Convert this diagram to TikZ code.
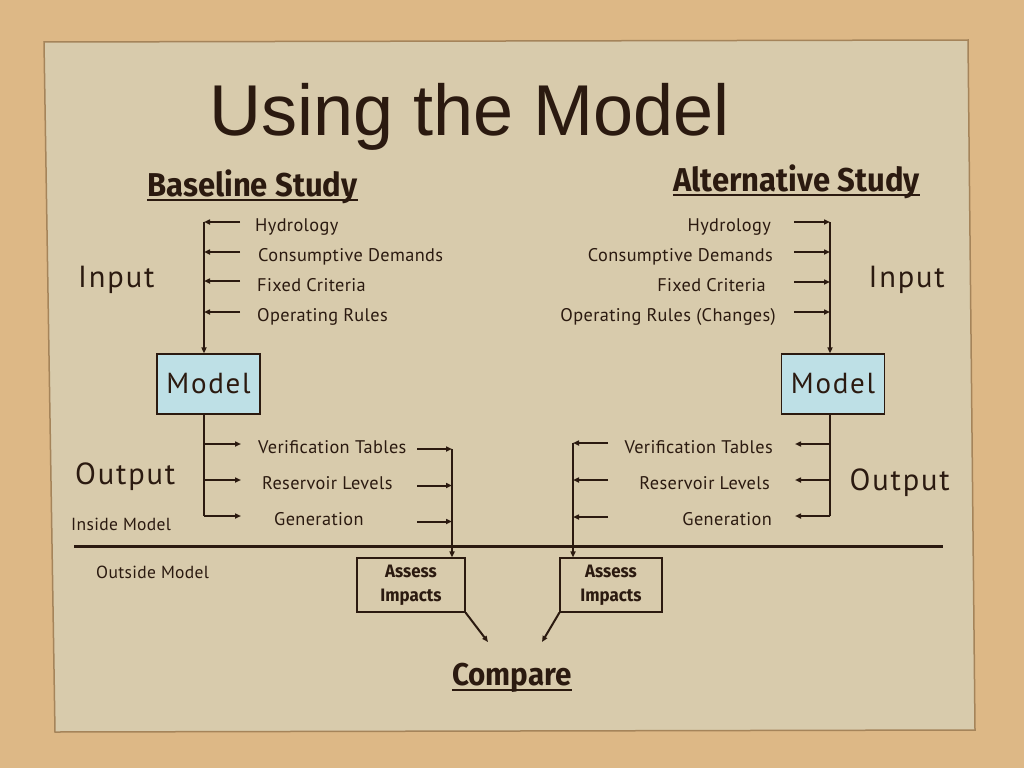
\documentclass[tikz,border=0pt]{standalone}
\usepackage{fontspec}
\setmainfont{PT Sans}[LetterSpace=2]
\newfontfamily\bigfont{PT Sans}[LetterSpace=6]
\newfontfamily\titlefont{Liberation Sans}
\newfontfamily\headfont{Fira Sans}[FakeStretch=0.94]
\usetikzlibrary{arrows.meta}
\definecolor{ink}{HTML}{2B1A10}
\definecolor{sand}{HTML}{DDB886}
\definecolor{paper}{HTML}{D8CBAC}
\definecolor{paperedge}{HTML}{A5845A}
\definecolor{modelfill}{HTML}{BEE0E6}
\tikzset{
  txt/.style={inner sep=0pt, text=ink, font=\fontsize{18.3}{20}\selectfont},
  small/.style={inner sep=0pt, text=ink, font=\fontsize{17.5}{19}\selectfont},
  big/.style={inner sep=0pt, text=ink, font=\bigfont\fontsize{30.5}{32}\selectfont},
  head/.style={inner sep=0pt, text=ink, font=\headfont\bfseries\fontsize{33}{35}\selectfont},
  modelbox/.style={draw=ink, line width=1.2pt, fill=modelfill, minimum width=103pt, minimum height=60pt, inner sep=0pt, text=ink, font=\bigfont\fontsize{29}{31}\selectfont},
  assessbox/.style={draw=ink, line width=1.1pt, minimum height=54pt, inner sep=0pt, text=ink, align=center, font=\headfont\bfseries\fontsize{18}{24}\selectfont},
  arr/.style={draw=ink, line width=2pt, -{Triangle[length=6pt,width=5pt]}},
  ln/.style={draw=ink, line width=1.8pt},
  uline/.style={draw=ink, line width=2pt}
}
\begin{document}
\begin{tikzpicture}[x=1pt,y=-1pt]
\useasboundingbox (0,0) rectangle (1024,768);
\fill[sand] (0,0) rectangle (1024,768);
\filldraw[fill=paper, draw=paperedge, line width=1.5pt] (44,42) -- (968,40) -- (975,730) -- (55,732) -- cycle;

% title
\node[anchor=base west, inner sep=0pt, text=ink, font=\titlefont\fontsize{72}{76}\selectfont] (title) at (209,135) {Using the Model};

% headings
\node[head, anchor=base west] (bs) at (147,196) {Baseline Study};
\draw[uline] ([yshift=-4pt]bs.base west) -- ([yshift=-4pt]bs.base east);
\node[head, anchor=base east] (as) at (920,191) {Alternative Study};
\draw[uline] ([yshift=-4pt]as.base west) -- ([yshift=-4pt]as.base east);

% big labels
\node[big, anchor=base west] (inL) at (78,287) {Input};
\node[big, anchor=base east] (inR) at (945,287) {Input};
\node[big, anchor=base west] (outL) at (75,484) {Output};
\node[big, anchor=base east] (outR) at (950,490) {Output};
\node[small, anchor=base west] (inside) at (71,530) {Inside Model};
\node[small, anchor=base west] (outside) at (96,578) {Outside Model};

% left input texts
\node[txt, anchor=base west] (lh) at (255,231.5) {Hydrology};
\node[txt, anchor=base west] (lc) at (258,261.5) {Consumptive Demands};
\node[txt, anchor=base west] (lf) at (257,291) {Fixed Criteria};
\node[txt, anchor=base west] (lo) at (257,321) {Operating Rules};

% right input texts
\node[txt, anchor=base east] (rh) at (771,231.5) {Hydrology};
\node[txt, anchor=base east] (rc) at (773,261.5) {Consumptive Demands};
\node[txt, anchor=base east] (rf) at (766,291) {Fixed Criteria};
\node[txt, anchor=base east] (ro) at (776,321) {Operating Rules\ (Changes)};

% model boxes
\node[modelbox] (LM) at (208.5,384) {Model};
\node[modelbox] (RM) at (833,384) {Model};

% left output texts
\node[txt, anchor=base west] (lv) at (258,453) {Verification Tables};
\node[txt, anchor=base west] (lr) at (262,489) {Reservoir Levels};
\node[txt, anchor=base west] (lg) at (274,525) {Generation};

% right output texts
\node[txt, anchor=base east] (rv) at (773,453) {Verification Tables};
\node[txt, anchor=base east] (rr) at (770,489) {Reservoir Levels};
\node[txt, anchor=base east] (rg) at (772,525) {Generation};

% assess boxes
\node[assessbox, minimum width=108pt] (LA) at (411,585) {Assess\\Impacts};
\node[assessbox, minimum width=102pt] (RA) at (611,585) {Assess\\Impacts};

% compare
\node[head, font=\headfont\bfseries\fontsize{31.5}{33}\selectfont, anchor=base] (cmp) at (512,685) {Compare};
\draw[uline] ([yshift=-5pt]cmp.base west) -- ([yshift=-5pt]cmp.base east);

% separator
\coordinate (sepL) at (74,546);
\coordinate (sepR) at (943,546);
\draw[draw=ink, line width=3pt] (sepL) -- (sepR);

% ---- left input connectors
\foreach \i/\y in {1/222,2/252,3/281,4/312}{
  \coordinate (lis\i) at (240,\y);
  \coordinate (lie\i) at (204,\y);
  \draw[arr] (lis\i) -- (lie\i);
}
\draw[ln] (lie1) -- (lie4);
\draw[arr] (lie4) -- (lie4 |- LM.north);

% ---- left output connectors
\foreach \i/\y in {1/444,2/480,3/516}{
  \coordinate (los\i) at (204,\y);
  \coordinate (loe\i) at (241,\y);
  \draw[arr] (los\i) -- (loe\i);
}
\draw[ln] (los1 |- LM.south) -- (los3);

% left to assess
\foreach \i/\y in {1/449,2/485.5,3/521.5}{
  \coordinate (lts\i) at (417,\y);
  \coordinate (lte\i) at (452,\y);
  \draw[arr] (lts\i) -- (lte\i);
}
\draw[ln] (lte1) -- (lte3);
\draw[arr] (lte3) -- (lte3 |- LA.north);

% ---- right input connectors
\foreach \i/\y in {1/222,2/252,3/282,4/312}{
  \coordinate (ris\i) at (794,\y);
  \coordinate (rie\i) at (830,\y);
  \draw[arr] (ris\i) -- (rie\i);
}
\draw[ln] (rie1) -- (rie4);
\draw[arr] (rie4) -- (rie4 |- RM.north);

% ---- right output connectors
\foreach \i/\y in {1/444,2/480,3/516}{
  \coordinate (ros\i) at (830,\y);
  \coordinate (roe\i) at (795,\y);
  \draw[arr] (ros\i) -- (roe\i);
}
\draw[ln] (ros1 |- RM.south) -- (ros3);

% right to assess
\foreach \i/\y in {1/443,2/480,3/517}{
  \coordinate (rts\i) at (608,\y);
  \coordinate (rte\i) at (573,\y);
  \draw[arr] (rts\i) -- (rte\i);
}
\draw[ln] (rte1) -- (rte3);
\draw[arr] (rte3) -- (rte3 |- RA.north);

% assess to compare
\coordinate (cL) at (488,642);
\coordinate (cR) at (542,642);
\draw[arr] (LA.south east) -- (cL);
\draw[arr] (RA.south west) -- (cR);
\end{tikzpicture}
\end{document}
